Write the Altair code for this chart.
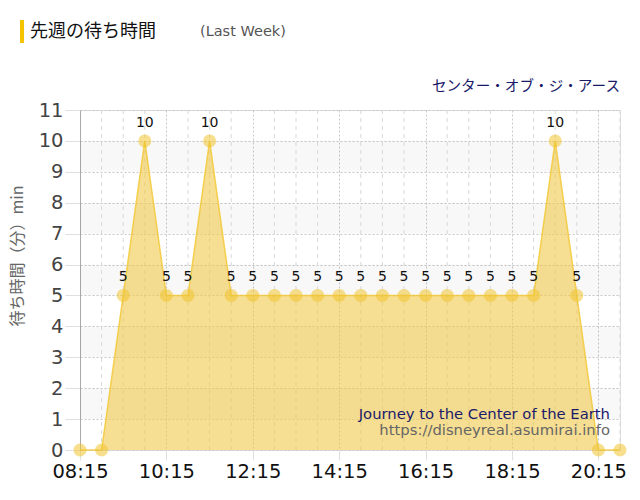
import altair as alt
import pandas as pd

times = ["08:15", "08:45", "09:15", "09:45", "10:15", "10:45", "11:15", "11:45",
         "12:15", "12:45", "13:15", "13:45", "14:15", "14:45", "15:15", "15:45",
         "16:15", "16:45", "17:15", "17:45", "18:15", "18:45", "19:15", "19:45",
         "20:15", "20:45"]
waits = [0, 0, 5, 10, 5, 5, 10, 5,
         5, 5, 5, 5, 5, 5, 5, 5,
         5, 5, 5, 5, 5, 5, 10, 5,
         0, 0]
tick_labels = ["08:15", "10:15", "12:15", "14:15", "16:15", "18:15", "20:15"]
y_ticks = [0, 1, 2, 3, 4, 5, 6, 7, 8, 9, 10, 11]
band_starts = [1, 3, 5, 7, 9]

title_text = "先週の待ち時間"
subtitle_text = "(Last Week)"
attraction_jp = "センター・オブ・ジ・アース"
attraction_en = "Journey to the Center of the Earth"
site_url = "https://disneyreal.asumirai.info"
y_title = "待ち時間（分）min"

FONT = "DejaVu Sans"
JP_FONT = "Noto Sans CJK JP"
W, H = 540, 340

df = pd.DataFrame({"time": times, "wait": waits})
df["label"] = [str(w) if w > 0 else "" for w in waits]
minor = pd.DataFrame({"time": [t for t in times if t not in tick_labels]})
bands = pd.DataFrame({"y0": band_starts, "y1": [b + 1 for b in band_starts]})

xscale = alt.Scale(type="point", padding=0, domain=times)
yscale = alt.Scale(domain=[0, 11], nice=False, zero=True)

xaxis = alt.Axis(values=tick_labels, title=None, labelAngle=0, grid=True,
                 gridDash=[2, 2], gridColor="#c8c8c8", tickColor="#e0e0e0",
                 tickSize=10, domain=False, labelFontSize=19.5,
                 labelColor="#111111", labelPadding=2, labelFont=FONT)
yaxis = alt.Axis(values=y_ticks, title=None, grid=True, gridDash=[2, 2],
                 gridColor="#c8c8c8", tickColor="#e0e0e0", tickSize=15,
                 domainColor="#aaaaaa", labelFontSize=19.5, labelColor="#444444",
                 labelPadding=2, labelFont=FONT)

band_layer = alt.Chart(bands).mark_rect(color="#000000", opacity=0.028).encode(
    x=alt.value(0), x2=alt.value(W),
    y=alt.Y("y0:Q", scale=yscale, axis=yaxis), y2="y1:Q")

minor_layer = alt.Chart(minor).mark_rule(color="#d8d8d8", strokeDash=[4, 4],
                                         strokeWidth=1).encode(
    x=alt.X("time:O", scale=xscale, axis=xaxis),
    y=alt.value(0), y2=alt.value(H))

base = alt.Chart(df).encode(
    x=alt.X("time:O", scale=xscale, axis=xaxis),
    y=alt.Y("wait:Q", scale=yscale, axis=yaxis))

area = base.mark_area(color="#f0c84a", opacity=0.6)
line = base.mark_line(color="#f3c731", strokeWidth=1.5, opacity=0.8)
pts = base.mark_circle(size=170, color="#f0c530", opacity=0.55)
labels = base.mark_text(dy=-18, fontSize=14, font=FONT, color="#111111").encode(
    text="label:N")

def txt(s, x, y, size, color, align="left", angle=0, font=FONT):
    d = pd.DataFrame({"t": [s]})
    return alt.Chart(d).mark_text(align=align, baseline="middle", fontSize=size,
                                  font=font, color=color, angle=angle).encode(
        text="t:N", x=alt.value(x), y=alt.value(y))

bar = alt.Chart(pd.DataFrame({"a": [1]})).mark_rect(color="#f5c400").encode(
    x=alt.value(-60), x2=alt.value(-56), y=alt.value(-90), y2=alt.value(-67))

chart = alt.layer(
    band_layer, minor_layer, area, line, pts, labels,
    bar,
    txt(title_text, -50, -78, 18, "#111111", font=JP_FONT),
    txt(subtitle_text, 120, -78, 14.5, "#555555"),
    txt(attraction_jp, W, -23, 14.6, "#1a1a6a", align="right", font=JP_FONT),
    txt(attraction_en, 530, 305, 14.8, "#1a1a6a", align="right"),
    txt(site_url, 530, 321, 14.8, "#666666", align="right"),
    txt(y_title, -62, 146, 16, "#666666", align="center", angle=270, font=JP_FONT),
).properties(
    width=W, height=H,
    autosize=alt.AutoSizeParams(type="none"),
    padding={"left": 80, "top": 110, "right": 20, "bottom": 50},
).configure_view(fill="#f9f9f9", stroke=None).configure(background="#ffffff")

chart.save("out.html", embed_options={"renderer": "svg", "actions": False})
